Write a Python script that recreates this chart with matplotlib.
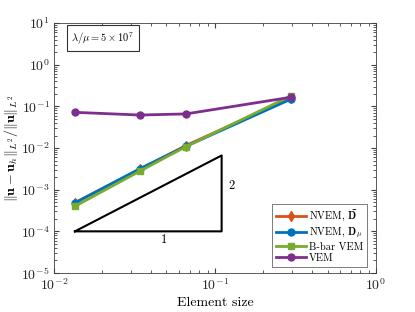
import matplotlib
matplotlib.use("Agg")
import matplotlib.pyplot as plt

plt.rcParams['mathtext.fontset'] = 'cm'
plt.rcParams['font.family'] = ['cmr10']
plt.rcParams['axes.formatter.use_mathtext'] = True

h = [0.0135, 0.0342, 0.066, 0.297]
err_nvem_dtilde = [4.9e-4, 3.1e-3, 0.0115, 0.16]
err_nvem_dmu = [4.8e-4, 3.2e-3, 0.011, 0.15]
err_bbar = [4.0e-4, 2.8e-3, 0.0108, 0.18]
err_vem = [0.072, 0.062, 0.066, 0.166]

tri_x = [0.0135, 0.11]
tri_y0 = 1e-4

c_orange = (0.85, 0.325, 0.098)
c_blue = (0.0, 0.447, 0.741)
c_green = (0.466, 0.674, 0.188)
c_purple = (0.494, 0.184, 0.556)

fig = plt.figure(figsize=(4.15, 3.12), dpi=100)
ax = fig.add_axes([0.130, 0.125, 0.776, 0.801])

ax.loglog(h, err_nvem_dtilde, '-d', color=c_orange, lw=2, ms=5,
          label=r'NVEM, $\widetilde{\mathbf{D}}$')
ax.loglog(h, err_nvem_dmu, '-o', color=c_blue, lw=2, ms=5,
          label=r'NVEM, $\mathbf{D}_\mu$')
ax.loglog(h, err_bbar, '-s', color=c_green, lw=2, ms=5,
          label='B-bar VEM')
ax.loglog(h, err_vem, '-o', color=c_purple, lw=2, ms=5,
          label='VEM')

# slope triangle
x0, x1 = tri_x
y1 = tri_y0 * (x1 / x0) ** 2
ax.plot([x0, x1, x1, x0], [tri_y0, tri_y0, y1, tri_y0], 'k-', lw=1.5)
ax.text(0.048, 6.2e-5, '1', ha='center', va='center', fontsize=9)
ax.text(0.126, 1.2e-3, '2', ha='center', va='center', fontsize=9)

ax.text(0.0128, 3.6, r'$\lambda/\mu = 5\times10^7$', fontsize=7.5,
        bbox=dict(facecolor='white', edgecolor='0.2', lw=0.8, boxstyle='square,pad=0.45'))

ax.set_xlim(1e-2, 1e0)
ax.set_ylim(1e-5, 1e1)
ax.set_xlabel('Element size', fontsize=10, labelpad=3)
ax.set_ylabel(r'$\|\mathbf{u}-\mathbf{u}_h\|_{L^2}/\|\mathbf{u}\|_{L^2}$', fontsize=10, labelpad=1)
ax.tick_params(which='both', direction='in', top=True, right=True, labelsize=10,
               colors='0.25', labelcolor='0.15', pad=3)
ax.tick_params(which='major', length=3.5)
ax.tick_params(which='minor', length=2)
for s in ax.spines.values():
    s.set_color('0.25')
    s.set_linewidth(0.6)

leg = ax.legend(loc='lower right', fontsize=7.5, fancybox=False, edgecolor='0.25',
                handlelength=2.9, borderpad=0.35, labelspacing=0.2, handletextpad=0.25,
                borderaxespad=0.6, bbox_to_anchor=(0.99, 0.0))
leg.get_frame().set_linewidth(0.6)

fig.savefig('out.png', dpi=100)
